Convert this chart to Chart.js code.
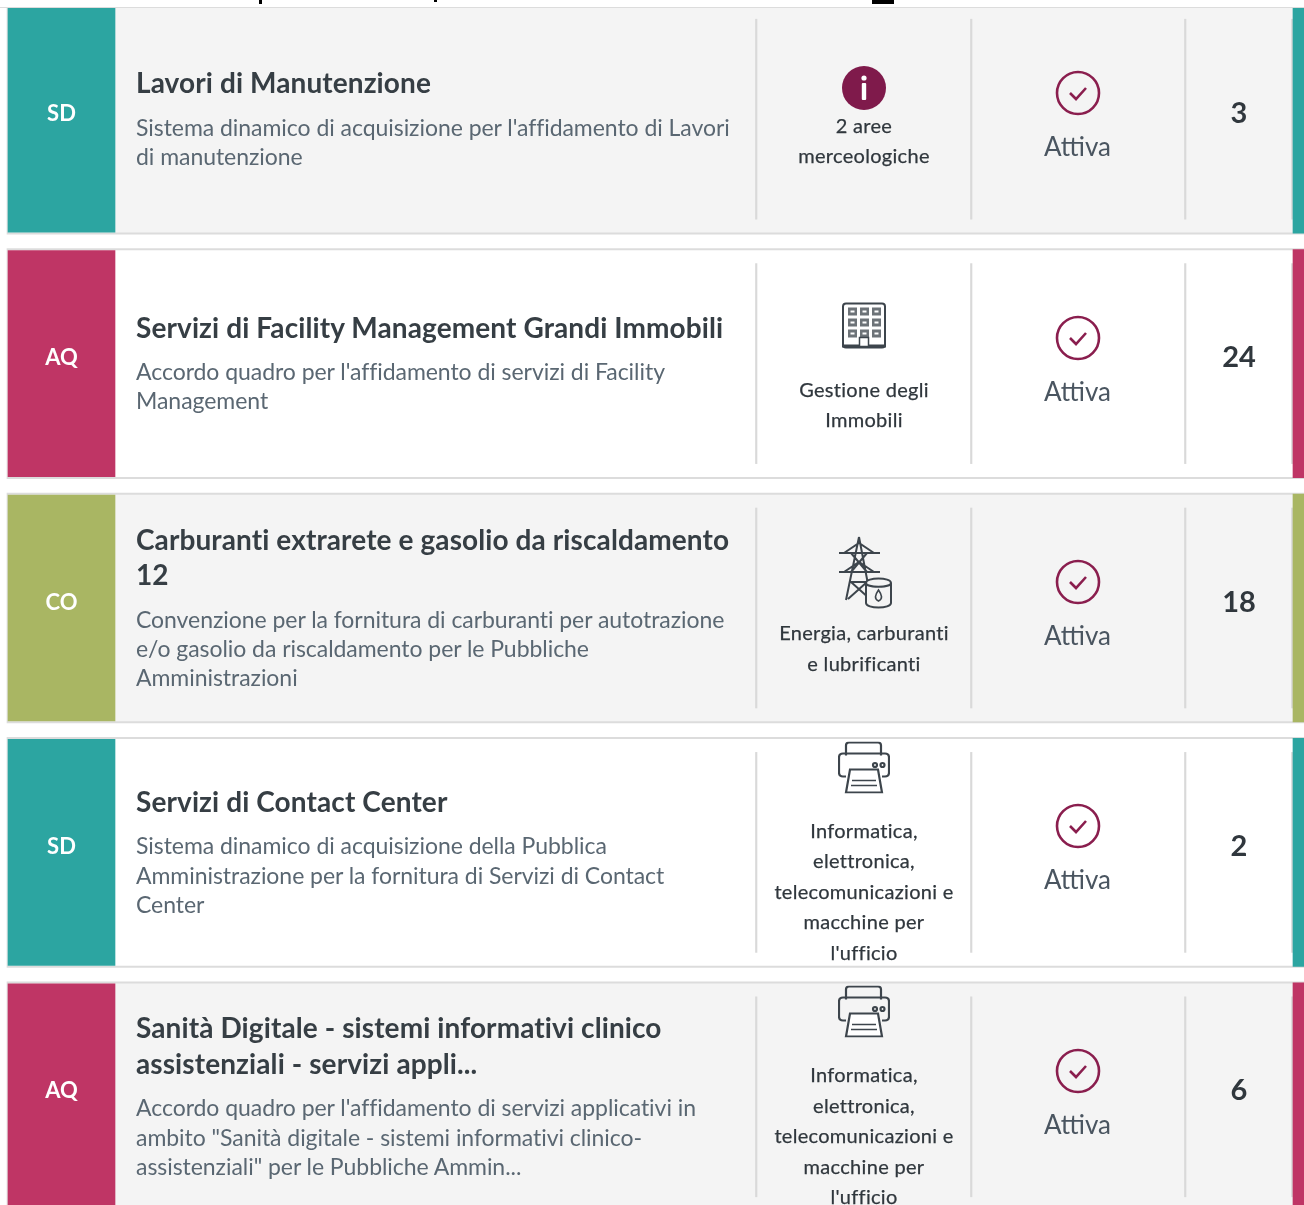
<!DOCTYPE html>
<html lang="it">
<head>
<meta charset="UTF-8">
<title>Iniziative</title>
<script src="https://cdn.jsdelivr.net/npm/chart.js"></script>
<style>
    html, body { margin: 0; height: 1205px; overflow: hidden; background: #fff; font-family: Lato, sans-serif; }
    #wrap { position: relative; width: 1304px; height: 1205px; overflow: hidden; }
    #chart { position: absolute; left: 0; top: -3px; }
    #head { position: absolute; left: 0; top: 0; width: 1304px; height: 7px; background: #fff; border-bottom: 1.5px solid #dcdcdc; }
    #head i { position: absolute; top: 0; background: #000; }
    #rows { position: absolute; left: 0; top: 0; }
    .row { position: absolute; left: 0; width: 1304px; height: 230px; }
    .row > div { position: absolute; top: 0; height: 230px; display: flex; flex-direction: column; justify-content: center; align-items: center; }
    .badge { left: 8px; width: 107px; color: #fff; font-size: 22px; font-weight: 700; transform: translateY(-7px); }
    .main { left: 136px; width: 610px; align-items: flex-start !important; transform: translateY(-1px); }
    .title { font-size: 28px; line-height: 35.5px; font-weight: 700; color: #363e44; white-space: nowrap; letter-spacing: 0.1px; margin-bottom: 12px; }
    .desc { font-size: 23px; line-height: 29.2px; color: #5a6772; white-space: nowrap; letter-spacing: -0.05px; }
    .area { left: 757px; width: 214px; transform: translateY(1.5px); }
    .area.info, .area.tower { transform: translateY(-1px); }
    .area div { font-size: 20px; line-height: 30.5px; color: #30373d; white-space: nowrap; text-align: center; letter-spacing: 0.3px; -webkit-text-stroke: 0.25px #30373d; }
    .area svg { display: block; }
    .state { left: 971px; width: 213px; transform: translateY(-3px); }
    .state span { font-size: 26px; line-height: 32px; margin-top: 14px; color: #4a5560; }
    .num { left: 1186px; width: 106px; font-size: 29px; font-weight: 700; color: #30373d; transform: translateY(-8px); }
</style>
</head>
<body>
<div id="wrap">
    <canvas id="chart" width="1304" height="1222"></canvas>
    <div id="rows"></div>
    <div id="head"><i style="left:259px;width:3px;height:4px"></i><i style="left:434px;width:3px;height:2px"></i><i style="left:872px;width:22px;height:4px"></i></div>
</div>
<script>
    const rowIds = ['r1', 'r2', 'r3', 'r4', 'r5'];
    const badges = ['SD', 'AQ', 'CO', 'SD', 'AQ'];
    const badgeColors = ['#2ca5a1', '#bf3565', '#a9b663', '#2ca5a1', '#bf3565'];
    const cardColors = ['#f4f4f4', '#ffffff', '#f4f4f4', '#ffffff', '#f4f4f4'];
    const titles = [
        ['Lavori di Manutenzione'],
        ['Servizi di Facility Management Grandi Immobili'],
        ['Carburanti extrarete e gasolio da riscaldamento', '12'],
        ['Servizi di Contact Center'],
        ['Sanità Digitale - sistemi informativi clinico', 'assistenziali - servizi appli...']
    ];
    const descriptions = [
        ['Sistema dinamico di acquisizione per l\'affidamento di Lavori', 'di manutenzione'],
        ['Accordo quadro per l\'affidamento di servizi di Facility', 'Management'],
        ['Convenzione per la fornitura di carburanti per autotrazione', 'e/o gasolio da riscaldamento per le Pubbliche', 'Amministrazioni'],
        ['Sistema dinamico di acquisizione della Pubblica', 'Amministrazione per la fornitura di Servizi di Contact', 'Center'],
        ['Accordo quadro per l\'affidamento di servizi applicativi in', 'ambito "Sanità digitale - sistemi informativi clinico-', 'assistenziali" per le Pubbliche Ammin...']
    ];
    const areaIcons = ['info', 'building', 'tower', 'printer', 'printer'];
    const areas = [
        ['2 aree', 'merceologiche'],
        ['Gestione degli', 'Immobili'],
        ['Energia, carburanti', 'e lubrificanti'],
        ['Informatica,', 'elettronica,', 'telecomunicazioni e', 'macchine per', 'l\'ufficio'],
        ['Informatica,', 'elettronica,', 'telecomunicazioni e', 'macchine per', 'l\'ufficio']
    ];
    const states = ['Attiva', 'Attiva', 'Attiva', 'Attiva', 'Attiva'];
    const counts = [3, 24, 18, 2, 6];

    const dark = '#3d454c';
    const icons = {
        info: `<svg width="44" height="44" viewBox="0 0 44 44"><circle cx="22" cy="22" r="22" fill="#7f1a4b"/><circle cx="22" cy="12" r="2.6" fill="#fff"/><rect x="19.8" y="17" width="4.4" height="17" rx="1" fill="#fff"/></svg>`,
        building: `<svg width="46" height="60" viewBox="0 0 46 60" style="margin-bottom:17px;transform:translateY(-2px)"><rect x="2" y="9" width="42" height="44" rx="3" fill="#fff" stroke="${dark}" stroke-width="2"/><rect x="1" y="50" width="44" height="3" fill="${dark}"/>
            ${[0, 1, 2].map(r => [0, 1, 2].map(c => `<rect x="${7 + c * 12}" y="${13 + r * 11}" width="9" height="8" fill="#6d7378"/><rect x="${9.5 + c * 12}" y="${16 + r * 11}" width="4" height="2" fill="#fff"/>`).join('')).join('')}
            <rect x="18.5" y="43" width="9" height="9" fill="#fff" stroke="${dark}" stroke-width="1.5"/></svg>`,
        tower: `<svg width="56" height="74" viewBox="0 0 56 74" fill="none" stroke="${dark}" stroke-width="2" style="margin-bottom:7px">
            <path d="M23 1 L10 64 M23 1 L35 64 M3 17 H44 M3 36 H44 M8 17 L23 7 L38 17 M8 36 L23 26 L38 36 M15 17 L31 36 M31 17 L15 36 M13 46 H33 M12 63 L31 46 M15 46 L34 63"/>
            <path d="M30 47 C30 41 55 41 55 47 V67 C55 73 30 73 30 67 Z" fill="#f4f4f4"/><path d="M30 47 C30 52 55 52 55 47"/>
            <path d="M42.5 54 C39 59 38 63 42.5 65 C47 63 46 59 42.5 54Z" stroke-width="1.6"/></svg>`,
        printer: `<svg width="52" height="52" viewBox="0 0 52 52" fill="none" stroke="${dark}" stroke-width="2.2" style="margin:0 0 21px">
            <path d="M8 14 V4 Q8 1 11 1 H40 Q43 1 43 4 V14"/><path d="M8 35 H5 Q1 35 1 31 V16 Q1 12 5 12 H47 Q51 12 51 16 V31 Q51 35 47 35 H44"/>
            <path d="M12 28 H40 L44 51 H8 Z" fill="#fff"/><path d="M14 39 H38 M13 44 H39" stroke-width="1.6"/><circle cx="37" cy="23.5" r="2"/><circle cx="44.5" cy="23.5" r="2"/></svg>`
    };
    const check = `<svg width="46" height="46" viewBox="0 0 46 46" fill="none" stroke="#8a1e4e" stroke-width="2.6"><circle cx="23" cy="23" r="21"/><path d="M15 23 L21 29 L31 18" stroke-width="2.6"/></svg>`;

    const span = (a, b) => rowIds.map(() => [a, b]);
    const bar = (data, color, thickness) => ({ data, backgroundColor: color, barThickness: thickness, grouped: false, borderWidth: 0 });

    const chart = new Chart(document.getElementById('chart'), {
        type: 'bar',
        data: {
            labels: rowIds,
            datasets: [
                bar(span(8, 115), badgeColors, 226),
                bar(span(1293, 1304), badgeColors, 228),
                bar(span(755.5, 757), '#d9d9d9', 200),
                bar(span(970.5, 972), '#d9d9d9', 200),
                bar(span(1184.5, 1186), '#d9d9d9', 200),
                bar(span(1291.5, 1293), '#d9d9d9', 200),
                bar(span(8, 1304), cardColors, 226),
                bar(span(7, 1304), '#dcdcdc', 230)
            ]
        },
        options: {
            indexAxis: 'y',
            responsive: false,
            animation: false,
            layout: { padding: 0 },
            plugins: { legend: { display: false }, tooltip: { enabled: false } },
            scales: {
                x: { type: 'linear', display: false, min: 0, max: 1304 },
                y: { display: false }
            }
        }
    });

    // text and icons sit on top of the bars, placed from the y scale
    const lines = list => list.map(t => `<div>${t}</div>`).join('');
    const rowsEl = document.getElementById('rows');
    rowIds.forEach((id, i) => {
        const y = chart.scales.y.getPixelForValue(i) - 3;
        const row = document.createElement('div');
        row.className = 'row';
        row.style.top = (y - 115) + 'px';
        row.innerHTML = `
            <div class="badge">${badges[i]}</div>
            <div class="main">
                <div class="title">${titles[i].join('<br>')}</div>
                <div class="desc">${descriptions[i].join('<br>')}</div>
            </div>
            <div class="area ${areaIcons[i]}">${icons[areaIcons[i]]}${lines(areas[i])}</div>
            <div class="state">${check}<span>${states[i]}</span></div>
            <div class="num">${counts[i]}</div>`;
        rowsEl.appendChild(row);
    });
</script>
</body>
</html>
